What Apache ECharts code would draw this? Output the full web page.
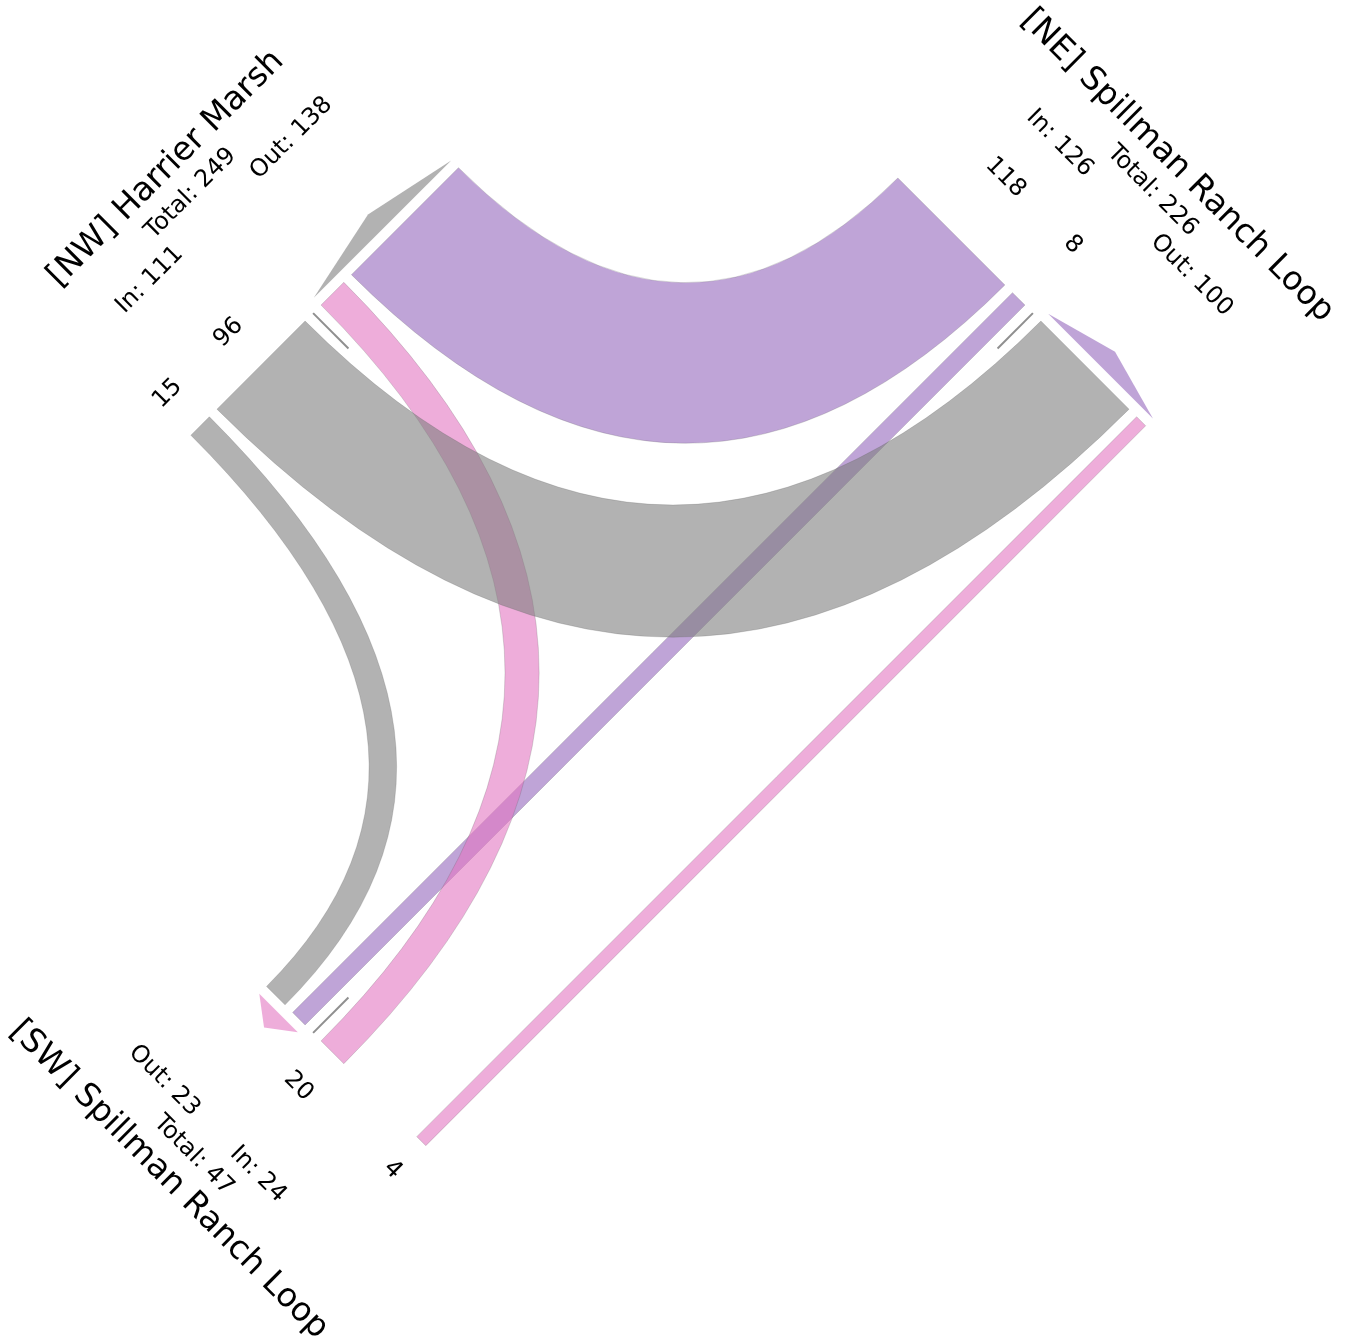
<!DOCTYPE html>
<html><head><meta charset="utf-8">
<script src="https://cdn.jsdelivr.net/npm/echarts@6/dist/echarts.min.js"></script>
<style>html,body{margin:0;padding:0;background:#fff}#chart{width:1347px;height:1338px}</style>
</head><body><div id="chart"></div>
<script>
// ---------------- data ----------------
const legCodes = ['NW', 'NE', 'SW'];
const legNames = ['[NW] Harrier Marsh', '[NE] Spillman Ranch Loop', '[SW] Spillman Ranch Loop'];
const flowFrom = ['NW', 'NW', 'NE', 'NE', 'SW', 'SW'];
const flowTo   = ['NE', 'SW', 'NW', 'SW', 'NW', 'NE'];
const flowCount = [96, 15, 118, 8, 20, 4];

// ---------------- style / layout constants ----------------
const LEG_COLOR = { NW: '#7f7f7f', NE: '#9467bd', SW: '#e377c2' };
const ALPHA = 0.6;
const FONT = '"DejaVu Sans", "Noto Sans", sans-serif';
const TITLE_SIZE = 33, SMALL_SIZE = 24;
const CW = 1347, CH = 1338, C = 673;
const B = 509;                 // distance of each leg's stop line from the centre
const W0 = 7.85, WK = 1.216;   // band width = W0 + WK * count
const GAP0 = 11.3, GAP = 10.8; // gap to centre line, gap between bands
const DIR = { NW: 0, NE: 1, SE: 2, SW: 3 };         // unrotated compass: N,E,S,W
const U = [[0, -1], [1, 0], [0, 1], [-1, 0]];        // outward unit vectors
const V = U.map(u => [u[1], -u[0]]);                 // inbound-side unit vectors
const NUM_OFF = [t => 46, t => 76.5, null, t => 33 + 7.5 * t.length];
const INOUT_OFF = 139, TOTAL_OFF = 171, TITLE_OFF = 206, PUSH = 26.7;

function rgba(hex, a) {
  const n = parseInt(hex.slice(1), 16);
  return `rgba(${(n >> 16) & 255},${(n >> 8) & 255},${n & 255},${a})`;
}
const measureCtx = document.createElement('canvas').getContext('2d');
function textW(t, size) { measureCtx.font = size + 'px ' + FONT; return measureCtx.measureText(t).width; }

// point on leg k: s along the leg (positive = inbound side), d outward from stop line
function P(k, s, d) {
  return [(B + d) * U[k][0] + s * V[k][0], (B + d) * U[k][1] + s * V[k][1]];
}

// ---------------- layout from data ----------------
const flows = flowCount.map((n, i) => {
  const from = DIR[flowFrom[i]], to = DIR[flowTo[i]];
  return { i, n, from, to, fromCode: flowFrom[i], w: W0 + WK * n, turn: (to - from + 4) % 4 };
});
const legInfo = legCodes.map((code, li) => {
  const k = DIR[code];
  let s = GAP0;
  const ins = flows.filter(f => f.from === k).sort((a, b) => a.turn - b.turn);
  ins.forEach(f => { f.sFrom = [s, s + f.w]; s += f.w + GAP; });
  const inStack = [GAP0, s - GAP];
  s = GAP0;
  const outs = flows.filter(f => f.to === k).sort((a, b) => a.turn - b.turn);
  outs.forEach(f => { f.sTo = [-s, -(s + f.w)]; s += f.w + GAP; });
  const outStack = [GAP0, s - GAP];
  const inN = ins.reduce((a, f) => a + f.n, 0);
  const outN = outs.reduce((a, f) => a + f.n, 0);
  return { code, li, k, ins, outs, inStack, outStack, inN, outN };
});
// through movements are drawn straight, aligned on the destination lane
flows.forEach(f => { f.sDraw = f.turn === 2 ? [-f.sTo[0], -f.sTo[1]] : f.sFrom; });

function bandPath(f, api) {
  const ai = P(f.from, f.sDraw[0], 0), ao = P(f.from, f.sDraw[1], 0);
  const bi = P(f.to, f.sTo[0], 0), bo = P(f.to, f.sTo[1], 0);
  const pt = p => api.coord(p);
  const f2 = p => p[0].toFixed(2) + ' ' + p[1].toFixed(2);
  if (f.turn === 2) {
    return 'M' + f2(pt(ai)) + 'L' + f2(pt(bi)) + 'L' + f2(pt(bo)) + 'L' + f2(pt(ao)) + 'Z';
  }
  const vert = U[f.from][0] === 0;
  const ctrl = (a, b) => vert ? [a[0], b[1]] : [b[0], a[1]];
  return 'M' + f2(pt(ai)) + 'Q' + f2(pt(ctrl(ai, bi))) + ' ' + f2(pt(bi)) +
         'L' + f2(pt(bo)) + 'Q' + f2(pt(ctrl(ao, bo))) + ' ' + f2(pt(ao)) + 'Z';
}

function rotGroup(api, children) {
  const o = api.coord([0, 0]);
  return { type: 'group', rotation: Math.PI / 4, originX: o[0], originY: o[1], children };
}
function label(api, k, s, d, text, size) {
  const p = api.coord(P(k, s, d));
  return {
    type: 'text', x: p[0], y: p[1], rotation: U[k][0] === 0 ? 0 : -Math.PI / 2,
    style: { text, x: 0, y: 0, font: size + 'px ' + FONT, fill: '#000', align: 'center', verticalAlign: 'middle' }
  };
}

// small flows first, big flows on top
const drawOrder = flows.slice().sort((a, b) => a.n - b.n);

const option = {
  animation: false,
  backgroundColor: '#fff',
  grid: { left: 0, top: 0, width: CW, height: CH, show: false },
  xAxis: { type: 'value', min: -C, max: CW - C, show: false },
  yAxis: { type: 'value', min: -C, max: CH - C, inverse: true, show: false },
  series: [
    {
      type: 'custom', coordinateSystem: 'cartesian2d', clip: false, silent: true,
      data: drawOrder.map(f => [f.i, f.n]),
      renderItem(params, api) {
        const f = drawOrder[params.dataIndex];
        const col = LEG_COLOR[f.fromCode];
        return rotGroup(api, [{
          type: 'path', shape: { pathData: bandPath(f, api) },
          style: { fill: rgba(col, ALPHA), stroke: 'rgba(90,90,90,0.35)', lineWidth: 0.6 }
        }]);
      }
    },
    {
      type: 'custom', coordinateSystem: 'cartesian2d', clip: false, silent: true,
      data: legInfo.map(l => [l.li, l.inN + l.outN]),
      renderItem(params, api) {
        const L = legInfo[params.dataIndex];
        const k = L.k, col = LEG_COLOR[L.code];
        const ch = [];
        // outbound arrow head
        const o1 = L.outs[0].sTo[0], o2 = L.outs[L.outs.length - 1].sTo[1];
        const tri = [P(k, o1, 10.3), P(k, (o1 + o2) / 2, 30.8), P(k, o2, 10.3)].map(p => api.coord(p));
        ch.push({ type: 'polygon', shape: { points: tri }, style: { fill: rgba(col, ALPHA) } });
        // centre divider
        const d1 = api.coord(P(k, 0, 0)), d2 = api.coord(P(k, 0, -50));
        ch.push({ type: 'line', shape: { x1: d1[0], y1: d1[1], x2: d2[0], y2: d2[1] },
                  style: { stroke: '#8f8f8f', lineWidth: 2 } });
        // lane counts
        L.ins.forEach(f => {
          const t = String(f.n);
          ch.push(label(api, k, (f.sDraw[0] + f.sDraw[1]) / 2, NUM_OFF[k](t), t, SMALL_SIZE));
        });
        // In / Out
        const inT = 'In: ' + L.inN, outT = 'Out: ' + L.outN;
        const inC = Math.max((L.inStack[0] + L.inStack[1]) / 2, PUSH + textW(inT, SMALL_SIZE) / 2);
        const outC = -Math.max((L.outStack[0] + L.outStack[1]) / 2, PUSH + textW(outT, SMALL_SIZE) / 2);
        ch.push(label(api, k, inC, INOUT_OFF, inT, SMALL_SIZE));
        ch.push(label(api, k, outC, INOUT_OFF, outT, SMALL_SIZE));
        ch.push(label(api, k, 2, TOTAL_OFF, 'Total: ' + (L.inN + L.outN), SMALL_SIZE));
        ch.push(label(api, k, 2, TITLE_OFF, legNames[L.li], TITLE_SIZE));
        return rotGroup(api, ch);
      }
    }
  ]
};
const chart = echarts.init(document.getElementById('chart'), null, { renderer: 'canvas' });
chart.setOption(option);
</script></body></html>
